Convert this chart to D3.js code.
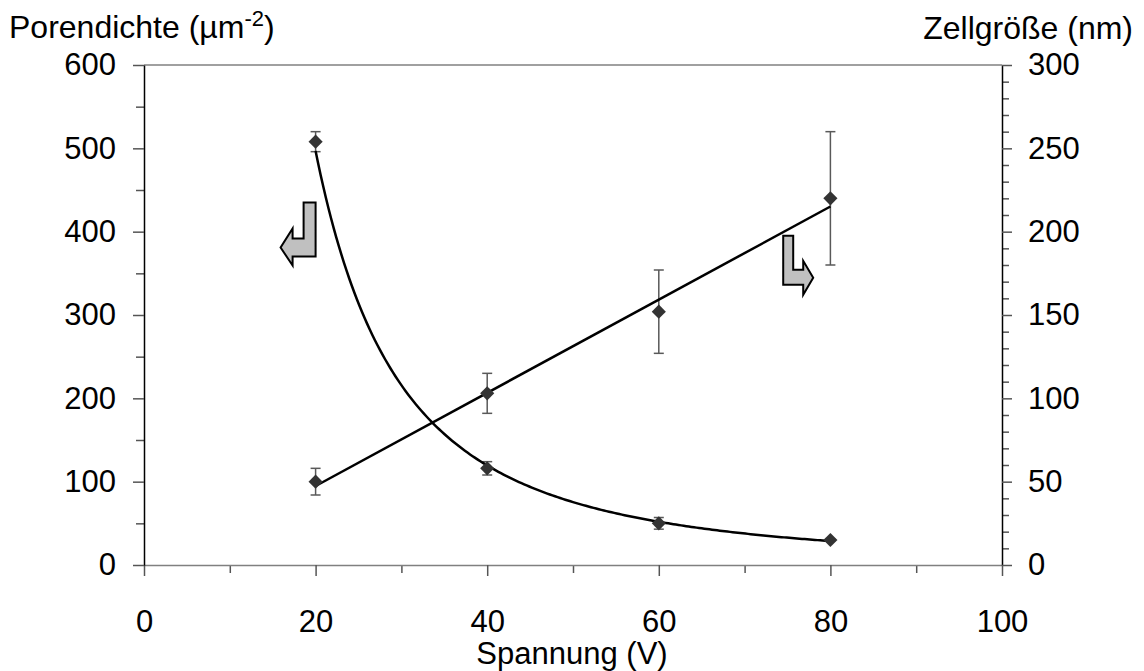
<!DOCTYPE html>
<html>
<head>
<meta charset="utf-8">
<script src="https://cdn.jsdelivr.net/npm/d3@7"></script>
<style>
  body { margin: 0; background: #fff; }
  svg { display: block; font-family: "Liberation Sans", Arial, sans-serif; }
</style>
</head>
<body>
<div id="canvas"></div>
<script>
"use strict"

/* data */
let voltages = [20, 40, 60, 80];          // Spannung (V)
let poreDensity = [508, 116, 50, 30];      // Porendichte (µm^-2), left axis
let poreDensityErr = [12, 8, 7, 1];
let cellSize = [50, 103, 152, 220];        // Zellgröße (nm), right axis
let cellSizeErr = [8, 12, 25, 40];

let xTicks = [0, 20, 40, 60, 80, 100];
let xMinorTicks = [10, 30, 50, 70, 90];
let leftTicks = [0, 100, 200, 300, 400, 500, 600];
let leftMinorTicks = [50, 150, 250, 350, 450, 550];
let rightTicks = [0, 50, 100, 150, 200, 250, 300];
let rightMinorTicks = d3.range(10, 300, 10).filter(function (v) { return v % 50 !== 0; });

let svgWidth = 1144;
let svgHeight = 671;

let plotLeft = 144;
let plotRight = 1002;
let plotTop = 65;
let plotBottom = 565;

let tickFont = 31;
let titleFont = 32;

let svg = d3.select("#canvas")
    .append("svg")
    .attr("width", svgWidth)
    .attr("height", svgHeight);

let xScale = d3.scaleLinear().domain([0, 100]).range([plotLeft, plotRight]);
let yLeft = d3.scaleLinear().domain([0, 600]).range([plotBottom, plotTop]);
let yRight = d3.scaleLinear().domain([0, 300]).range([plotBottom, plotTop]);

/* top border of plot area */
svg.append("line")
    .attr("x1", plotLeft).attr("x2", plotRight)
    .attr("y1", plotTop).attr("y2", plotTop)
    .attr("stroke", "#808080").attr("stroke-width", 1.5);

/* x axis: minor then major ticks */
let xMinor = svg.append("g")
    .attr("transform", "translate(0," + plotBottom + ")")
    .call(d3.axisBottom(xScale).tickValues(xMinorTicks).tickSize(8).tickFormat(""));
xMinor.select(".domain").remove();

let xAxis = svg.append("g")
    .attr("transform", "translate(0," + plotBottom + ")")
    .call(d3.axisBottom(xScale).tickValues(xTicks).tickSize(11).tickSizeOuter(0).tickFormat(d3.format("d")));
xAxis.select(".domain").attr("stroke", "#808080").attr("stroke-width", 1.5);
xAxis.selectAll("text")
    .attr("y", 67).attr("dy", 0)
    .attr("font-size", tickFont).attr("font-family", "Liberation Sans, Arial").attr("fill", "#000");

/* left axis */
let leftMinor = svg.append("g")
    .attr("transform", "translate(" + plotLeft + ",0)")
    .call(d3.axisLeft(yLeft).tickValues(leftMinorTicks).tickSize(8).tickFormat(""));
leftMinor.select(".domain").remove();

let leftAxis = svg.append("g")
    .attr("transform", "translate(" + plotLeft + ",0)")
    .call(d3.axisLeft(yLeft).tickValues(leftTicks).tickSize(11).tickSizeOuter(0).tickPadding(17).tickFormat(d3.format("d")));
leftAxis.select(".domain").attr("stroke", "#000").attr("stroke-width", 1.5);
leftAxis.selectAll("text")
    .attr("font-size", tickFont).attr("font-family", "Liberation Sans, Arial").attr("fill", "#000");

/* right axis */
let rightMinor = svg.append("g")
    .attr("transform", "translate(" + plotRight + ",0)")
    .call(d3.axisRight(yRight).tickValues(rightMinorTicks).tickSize(7).tickFormat(""));
rightMinor.select(".domain").remove();

let rightAxis = svg.append("g")
    .attr("transform", "translate(" + plotRight + ",0)")
    .call(d3.axisRight(yRight).tickValues(rightTicks).tickSize(10).tickSizeOuter(0).tickPadding(16).tickFormat(d3.format("d")));
rightAxis.select(".domain").attr("stroke", "#000").attr("stroke-width", 1.5);
rightAxis.selectAll("text")
    .attr("font-size", tickFont).attr("font-family", "Liberation Sans, Arial").attr("fill", "#000");

svg.selectAll(".tick line").attr("stroke", "#555").attr("stroke-width", 1.5);

/* trendlines: power fit for pore density, linear fit for cell size */
let lnX = voltages.map(Math.log);
let lnY = poreDensity.map(Math.log);
let mX = d3.mean(lnX), mY = d3.mean(lnY);
let powB = d3.sum(lnX, function (v, i) { return (v - mX) * (lnY[i] - mY); }) / d3.sum(lnX, function (v) { return (v - mX) * (v - mX); });
let powA = Math.exp(mY - powB * mX);

let mV = d3.mean(voltages), mC = d3.mean(cellSize);
let linB = d3.sum(voltages, function (v, i) { return (v - mV) * (cellSize[i] - mC); }) / d3.sum(voltages, function (v) { return (v - mV) * (v - mV); });
let linA = mC - linB * mV;

let xFirst = voltages[0], xLast = voltages[voltages.length - 1];
let powerCurve = d3.range(0, 201).map(function (i) {
    let v = xFirst + (xLast - xFirst) * i / 200;
    return [v, powA * Math.pow(v, powB)];
});

/* error bars */
function drawErrorBars(values, errs, yScale) {
    let g = svg.append("g").attr("stroke", "#595959").attr("stroke-width", 1.5);
    voltages.forEach(function (v, i) {
        let cx = xScale(v);
        let yTop = yScale(values[i] + errs[i]);
        let yBot = yScale(values[i] - errs[i]);
        g.append("line").attr("x1", cx).attr("x2", cx).attr("y1", yTop).attr("y2", yBot);
        g.append("line").attr("x1", cx - 5).attr("x2", cx + 5).attr("y1", yTop).attr("y2", yTop);
        g.append("line").attr("x1", cx - 5).attr("x2", cx + 5).attr("y1", yBot).attr("y2", yBot);
    });
}
drawErrorBars(poreDensity, poreDensityErr, yLeft);
drawErrorBars(cellSize, cellSizeErr, yRight);

svg.append("path")
    .datum(powerCurve)
    .attr("fill", "none")
    .attr("stroke", "#000")
    .attr("stroke-width", 2.5)
    .attr("d", d3.line()
        .x(function (d) { return xScale(d[0]); })
        .y(function (d) { return yLeft(d[1]); }));

svg.append("path")
    .datum([xFirst, xLast])
    .attr("fill", "none")
    .attr("stroke", "#000")
    .attr("stroke-width", 2.5)
    .attr("d", d3.line()
        .x(function (d) { return xScale(d); })
        .y(function (d) { return yRight(linA + linB * d); }));

/* diamond markers */
let marker = d3.symbol().type(d3.symbolSquare).size(100);
function drawMarkers(values, yScale) {
    svg.append("g").selectAll("path")
        .data(voltages)
        .join("path")
        .attr("d", marker)
        .attr("fill", "#333")
        .attr("transform", function (v, i) {
            return "translate(" + xScale(v) + "," + yScale(values[i]) + ") rotate(45)";
        });
}
drawMarkers(poreDensity, yLeft);
drawMarkers(cellSize, yRight);

/* bent arrows telling which axis belongs to which curve */
let leftArrowShape = [[-12, 0], [0, 0], [0, 54], [-23, 54], [-23, 63], [-35, 45], [-23, 26], [-23, 36], [-12, 36]];
let rightArrowShape = [[0, 0], [10, 0], [10, 34], [20, 34], [20, 25], [30, 42], [20, 59], [20, 49], [0, 49]];

function drawArrow(shape, ax, ay) {
    svg.append("polygon")
        .attr("points", shape.map(function (p) { return (ax + p[0]) + "," + (ay + p[1]); }).join(" "))
        .attr("fill", "#c0c0c0")
        .attr("stroke", "#000")
        .attr("stroke-width", 2)
        .attr("stroke-linejoin", "miter");
}
drawArrow(leftArrowShape, xScale(20), yLeft(435));
drawArrow(rightArrowShape, xScale(74.5), yRight(197.5));

/* axis titles */
let leftTitle = svg.append("text")
    .attr("x", 9)
    .attr("y", 38)
    .attr("font-size", titleFont)
    .text("Porendichte (µm");
leftTitle.append("tspan").attr("font-size", 22).attr("dy", -12).text("-2");
leftTitle.append("tspan").attr("dy", 12).text(")");

svg.append("text")
    .attr("x", 1133)
    .attr("y", 39)
    .attr("text-anchor", "end")
    .attr("font-size", titleFont)
    .text("Zellgröße (nm)");

svg.append("text")
    .attr("x", 572)
    .attr("y", 664)
    .attr("text-anchor", "middle")
    .attr("font-size", 31)
    .text("Spannung (V)");
</script>
</body>
</html>
